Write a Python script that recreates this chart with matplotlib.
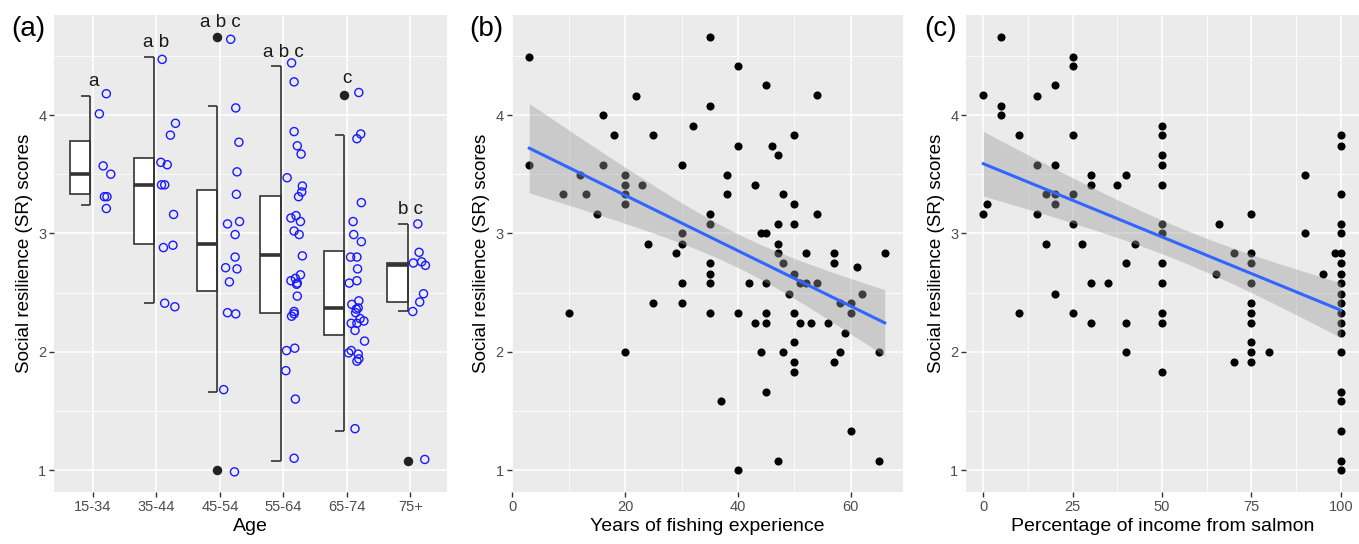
import numpy as np
import matplotlib
matplotlib.use('Agg')
import matplotlib.pyplot as plt
from matplotlib.ticker import MultipleLocator

# ---- panel (a): SR scores by age group ----
age_groups = ['15-34', '35-44', '45-54', '55-64', '65-74', '75+']

sr_1534 = [4.18, 4.01, 3.57, 3.50, 3.31, 3.31, 3.21]
sr_3544 = [4.47, 3.93, 3.83, 3.60, 3.58, 3.41, 3.41, 3.16, 2.88, 2.90, 2.41, 2.38]
sr_4554 = [4.64, 4.06, 3.77, 3.52, 3.33, 3.10, 3.08, 2.99, 2.80, 2.71, 2.70, 2.59,
           2.33, 2.32, 1.68, 0.985]
sr_5564 = [4.44, 4.28, 3.86, 3.74, 3.67, 3.47, 3.40, 3.35, 3.31, 3.15, 3.13, 3.10,
           3.02, 2.99, 2.81, 2.65, 2.62, 2.60, 2.58, 2.57, 2.47, 2.34, 2.32, 2.30,
           2.03, 2.01, 1.84, 1.60, 1.10]
sr_6574 = [4.19, 3.84, 3.80, 3.26, 3.10, 2.99, 2.93, 2.80, 2.80, 2.70, 2.60, 2.58,
           2.43, 2.40, 2.37, 2.36, 2.33, 2.28, 2.26, 2.24, 2.24, 2.18, 2.09, 2.01,
           1.99, 1.98, 1.94, 1.92, 1.35]
sr_75p = [3.08, 2.84, 2.76, 2.75, 2.73, 2.49, 2.42, 2.34, 1.09]

# horizontal jitter of each point as seen in the picture (category units)
jit_1534 = [0.21, 0.10, 0.16, 0.28, 0.18, 0.22, 0.21]
jit_3544 = [0.09, 0.30, 0.22, 0.07, 0.17, 0.08, 0.13, 0.27, 0.11, 0.26, 0.13, 0.29]
jit_4554 = [0.17, 0.25, 0.30, 0.27, 0.26, 0.31, 0.12, 0.24, 0.24, 0.09, 0.27, 0.15,
            0.12, 0.25, 0.06, 0.23]
jit_5564 = [0.13, 0.17, 0.17, 0.22, 0.28, 0.06, 0.30, 0.29, 0.24, 0.20, 0.12, 0.27,
            0.17, 0.25, 0.30, 0.27, 0.19, 0.12, 0.22, 0.21, 0.22, 0.17, 0.17, 0.13,
            0.18, 0.05, 0.04, 0.19, 0.17]
jit_6574 = [0.19, 0.22, 0.16, 0.23, 0.10, 0.11, 0.23, 0.06, 0.16, 0.17, 0.16, 0.04,
            0.19, 0.08, 0.18, 0.15, 0.14, 0.21, 0.27, 0.07, 0.16, 0.13, 0.28, 0.07,
            0.03, 0.18, 0.19, 0.16, 0.13]
jit_75p = [0.12, 0.14, 0.18, 0.05, 0.24, 0.21, 0.15, 0.04, 0.23]

box_q1 = [3.33, 2.91, 2.51, 2.33, 2.14, 2.42]
box_med = [3.50, 3.41, 2.91, 2.82, 2.37, 2.73]
box_q3 = [3.78, 3.64, 3.37, 3.32, 2.85, 2.75]
whisk_lo = [3.24, 2.41, 1.66, 1.08, 1.33, 2.34]
whisk_hi = [4.16, 4.49, 4.08, 4.41, 3.83, 3.08]
outlier_grp = [2, 2, 4, 5]
outlier_val = [4.66, 1.00, 4.17, 1.08]

sig_letters = ['a', 'a b', 'a b c', 'a b c', 'c', 'b c']
letter_y = [4.28, 4.61, 4.78, 4.53, 4.31, 3.20]

# ---- panel (b): years of fishing experience ----
years = [3, 35, 40, 45, 54, 22, 35, 16, 32, 18, 25, 50, 40, 46, 47, 3, 16, 30, 12, 20,
         38, 20, 23, 43, 9, 13, 20, 38, 48, 20, 50, 15, 35, 54, 35, 47, 50, 30, 44, 45,
         24, 30, 47, 29, 47, 52, 57, 66, 35, 48, 57, 61, 35, 50, 35, 30, 42, 45, 51, 52,
         54, 49, 62, 25, 30, 58, 60, 10, 35, 40, 45, 50, 60, 43, 45, 51, 53, 56, 59, 50,
         20, 44, 48, 58, 65, 50, 57, 50, 45, 37, 60, 47, 65, 40]
sr_years = [4.49, 4.66, 4.41, 4.25, 4.17, 4.16, 4.08, 4.00, 3.91, 3.83, 3.83, 3.83,
            3.74, 3.74, 3.66, 3.58, 3.58, 3.58, 3.49, 3.49, 3.49, 3.41, 3.41, 3.41,
            3.33, 3.33, 3.33, 3.33, 3.33, 3.25, 3.25, 3.16, 3.16, 3.16, 3.08, 3.08,
            3.08, 3.00, 3.00, 3.00, 2.91, 2.91, 2.91, 2.83, 2.83, 2.83, 2.83, 2.83,
            2.75, 2.75, 2.75, 2.72, 2.66, 2.66, 2.58, 2.58, 2.58, 2.58, 2.58, 2.58,
            2.58, 2.49, 2.49, 2.41, 2.41, 2.41, 2.41, 2.33, 2.33, 2.33, 2.33, 2.33,
            2.33, 2.24, 2.24, 2.24, 2.24, 2.24, 2.16, 2.08, 2.00, 2.00, 2.00, 2.00,
            2.00, 1.91, 1.91, 1.83, 1.66, 1.58, 1.33, 1.08, 1.08, 1.00]

# ---- panel (c): percentage of income from salmon ----
income = [5, 25, 25, 20, 0, 15, 5, 5, 10, 25, 50, 50, 50, 50, 15, 20, 30, 30, 40, 37.5,
          50, 90, 17.5, 20, 20, 25, 1, 0, 15, 25, 50, 50, 66, 75, 90, 17.5, 27.5, 42.5,
          70, 75, 75, 98.5, 40, 50, 95, 65, 75, 30, 35, 50, 20, 10, 25, 50, 50, 30, 40,
          75, 75, 75, 75, 75, 75, 70, 80, 40, 50,
          100, 100, 100, 100, 100, 100, 100, 100, 100, 100, 100, 100, 100, 100, 100,
          100, 100, 100, 100, 100]
sr_income = [4.66, 4.49, 4.41, 4.25, 4.17, 4.16, 4.08, 4.00, 3.83, 3.83, 3.91, 3.83,
             3.66, 3.58, 3.58, 3.58, 3.49, 3.41, 3.49, 3.41, 3.41, 3.49, 3.33, 3.33,
             3.25, 3.33, 3.25, 3.16, 3.16, 3.08, 3.08, 3.00, 3.08, 3.16, 3.00, 2.91,
             2.91, 2.91, 2.83, 2.83, 2.75, 2.83, 2.75, 2.75, 2.66, 2.66, 2.58, 2.58,
             2.58, 2.58, 2.49, 2.33, 2.33, 2.33, 2.24, 2.24, 2.24, 2.41, 2.33, 2.24,
             2.08, 2.00, 1.91, 1.91, 2.00, 2.00, 1.83,
             3.83, 3.74, 3.33, 3.08, 3.00, 2.83, 2.75, 2.66, 2.58, 2.49, 2.41, 2.33,
             2.24, 2.16, 2.00, 1.66, 1.58, 1.33, 1.08, 1.00]

W, H = 1359, 544
fig = plt.figure(figsize=(W / 100, H / 100), dpi=100)
plt.rcParams['font.family'] = ['Liberation Sans', 'DejaVu Sans']

BG = '#EBEBEB'
TICKC = '#4D4D4D'
YLIM = (0.815, 4.845)
DOT = 34


def style(ax):
    ax.set_facecolor(BG)
    for s in ax.spines.values():
        s.set_visible(False)
    ax.grid(which='major', color='white', linewidth=1.1, zorder=0)
    ax.grid(which='minor', color='white', linewidth=0.55, zorder=0)
    ax.set_axisbelow(True)
    ax.tick_params(which='major', length=3.5, width=1.0, color='#333333',
                   labelcolor=TICKC, labelsize=10.5, pad=2)
    ax.tick_params(which='minor', length=0)
    ax.set_ylim(*YLIM)
    ax.set_yticks([1, 2, 3, 4])
    ax.yaxis.set_minor_locator(MultipleLocator(0.5))
    ax.set_ylabel('Social resilience (SR) scores', fontsize=13.5, labelpad=4)


def add_fit(ax, xv, yv, xlo, xhi):
    x = np.asarray(xv, float)
    y = np.asarray(yv, float)
    n = len(x)
    xm = x.mean()
    sxx = ((x - xm) ** 2).sum()
    b1 = ((x - xm) * (y - y.mean())).sum() / sxx
    b0 = y.mean() - b1 * xm
    s = np.sqrt(((y - b0 - b1 * x) ** 2).sum() / (n - 2))
    xs = np.linspace(xlo, xhi, 80)
    ys = b0 + b1 * xs
    se = s * np.sqrt(1 / n + (xs - xm) ** 2 / sxx)
    ax.fill_between(xs, ys - 1.986 * se, ys + 1.986 * se, color='#999999',
                    alpha=0.4, linewidth=0, zorder=4)
    ax.plot(xs, ys, color='#3366FF', linewidth=2.2, zorder=5)


# panel (a)
axa = fig.add_axes([54 / W, 1 - 492 / H, 393 / W, 477 / H])
style(axa)
groups = [sr_1534, sr_3544, sr_4554, sr_5564, sr_6574, sr_75p]
jitters = [jit_1534, jit_3544, jit_4554, jit_5564, jit_6574, jit_75p]
pos = np.arange(1, len(age_groups) + 1)
axa.set_xlim(0.385, 6.58)
axa.set_xticks(pos)
axa.set_xticklabels(age_groups)
axa.set_xlabel('Age', fontsize=14, labelpad=3)

lc = '#333333'
bl, br = 0.36, 0.04
for i, p in enumerate(pos):
    axa.bar(p - (bl + br) / 2, box_q3[i] - box_q1[i], bottom=box_q1[i], width=bl - br,
            facecolor='white', edgecolor=lc, linewidth=1.2, zorder=3)
    axa.hlines(box_med[i], p - bl, p - br, color=lc, linewidth=2.6, zorder=4)
    axa.vlines(p - br, whisk_lo[i], whisk_hi[i], color=lc, linewidth=1.2, zorder=4)
    axa.hlines([whisk_lo[i], whisk_hi[i]], p - br - 0.15, p - br, color=lc,
               linewidth=1.2, zorder=4)
    axa.scatter(p + np.array(jitters[i]), groups[i], s=DOT, facecolors='none',
                edgecolors='#1A1AFF', linewidths=1.0, zorder=5)
    axa.text(p, letter_y[i], sig_letters[i], ha='center', va='center', fontsize=13.5,
             color='#1A1A1A', zorder=6)
axa.scatter(pos[outlier_grp] - br, outlier_val, s=DOT, color='#222222', zorder=5)

# panel (b)
axb = fig.add_axes([511.5 / W, 1 - 492 / H, 391 / W, 477 / H])
style(axb)
axb.set_xlim(-0.15, 69.15)
axb.set_xticks([0, 20, 40, 60])
axb.xaxis.set_minor_locator(MultipleLocator(10))
axb.scatter(years, sr_years, s=DOT, color='black', zorder=3, linewidths=0)
add_fit(axb, years, sr_years, min(years), max(years))
axb.set_xlabel('Years of fishing experience', fontsize=14, labelpad=3)

# panel (c)
axc = fig.add_axes([966 / W, 1 - 492 / H, 393 / W, 477 / H])
style(axc)
axc.set_xlim(-4.85, 105.1)
axc.set_xticks([0, 25, 50, 75, 100])
axc.xaxis.set_minor_locator(MultipleLocator(12.5))
axc.scatter(income, sr_income, s=DOT, color='black', zorder=3, linewidths=0)
add_fit(axc, income, sr_income, min(income), max(income))
axc.set_xlabel('Percentage of income from salmon', fontsize=14, labelpad=3)

for lab, xp in [('(a)', 11), ('(b)', 469), ('(c)', 924)]:
    fig.text(xp / W, 1 - 29 / H, lab, fontsize=20, va='center', ha='left')

fig.savefig('out.png', dpi=100)
